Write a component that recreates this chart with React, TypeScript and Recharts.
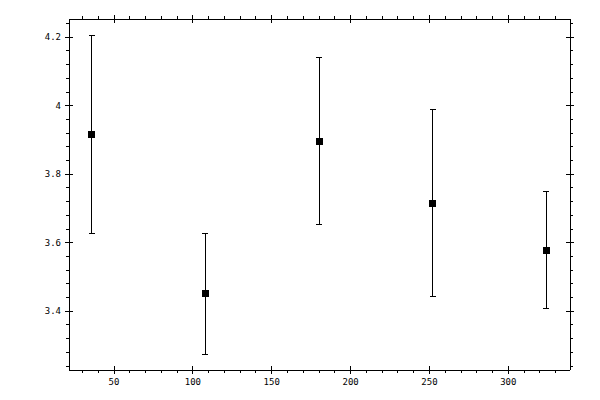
import { ScatterChart, Scatter, XAxis, YAxis, ErrorBar } from "recharts";

// measurement positions and mean values with symmetric error
const xs = [36, 108, 180, 252, 324];
const means = [3.916, 3.451, 3.896, 3.715, 3.578];
const errs = [0.29, 0.177, 0.244, 0.273, 0.171];

const xMajor = [50, 100, 150, 200, 250, 300];
const xTicks = [30, 40, 50, 60, 70, 80, 90, 100, 110, 120, 130, 140, 150, 160, 170, 180, 190, 200, 210, 220, 230, 240, 250, 260, 270, 280, 290, 300, 310, 320, 330];
const yMajor = [3.4, 3.6, 3.8, 4, 4.2];
const yTicks = [3.24, 3.28, 3.32, 3.36, 3.4, 3.44, 3.48, 3.52, 3.56, 3.6, 3.64, 3.68, 3.72, 3.76, 3.8, 3.84, 3.88, 3.92, 3.96, 4, 4.04, 4.08, 4.12, 4.16, 4.2, 4.24];

const data = xs.map((x, i) => ({ x, y: means[i], err: errs[i] }));

const FONT = "'DejaVu Sans Mono', monospace";

type Side = "bottom" | "top" | "left" | "right";

function makeTick(side: Side) {
  return (props: any) => {
    const { x, y, payload } = props;
    const v = payload.value;
    const horiz = side === "bottom" || side === "top";
    const major = horiz
      ? xMajor.includes(v)
      : yMajor.some((m) => Math.abs(m - v) < 1e-6);
    let line;
    if (horiz) {
      if (major) line = <line x1={x} x2={x} y1={y - 4} y2={y + 4} stroke="#000" />;
      else if (side === "bottom") line = <line x1={x} x2={x} y1={y} y2={y + 3} stroke="#000" />;
      else line = <line x1={x} x2={x} y1={y - 3} y2={y} stroke="#000" />;
    } else {
      if (major) line = <line x1={x - 4} x2={x + 4} y1={y} y2={y} stroke="#000" />;
      else if (side === "left") line = <line x1={x - 3} x2={x} y1={y} y2={y} stroke="#000" />;
      else line = <line x1={x} x2={x + 3} y1={y} y2={y} stroke="#000" />;
    }
    let label = null;
    if (major && side === "bottom") {
      label = (
        <text x={x} y={y + 15} textAnchor="middle" fontSize={9} fontFamily={FONT} fill="#000">
          {v}
        </text>
      );
    } else if (major && side === "left") {
      label = (
        <text x={x - 8} y={y + 3} textAnchor="end" fontSize={9} fontFamily={FONT} fill="#000">
          {v}
        </text>
      );
    }
    return (
      <g>
        {line}
        {label}
      </g>
    );
  };
}

const Square = (props: any) => {
  const { cx, cy } = props;
  return <rect x={cx - 3.5} y={cy - 3.5} width={7} height={7} fill="#000" />;
};

export default function App() {
  const xDomain = [21.46, 339.1];
  const yDomain = [3.2286, 4.2534];
  return (
    <div style={{ position: "absolute", left: 0, top: 0, width: 600, height: 400, background: "#fff" }}>
      <ScatterChart
        width={600}
        height={400}
        margin={{ top: 18, right: 29, bottom: 29, left: 68 }}
        style={{ shapeRendering: "crispEdges" }}
      >
        <XAxis
          xAxisId="bottom"
          dataKey="x"
          type="number"
          domain={xDomain}
          allowDataOverflow
          ticks={xTicks}
          interval={0}
          height={1}
          tickSize={0}
          tickMargin={0}
          tickLine={false}
          axisLine={{ stroke: "#000" }}
          tick={makeTick("bottom")}
        />
        <XAxis
          xAxisId="top"
          orientation="top"
          dataKey="x"
          type="number"
          domain={xDomain}
          allowDataOverflow
          ticks={xTicks}
          interval={0}
          height={1}
          tickSize={0}
          tickMargin={0}
          tickLine={false}
          axisLine={{ stroke: "#000" }}
          tick={makeTick("top")}
        />
        <YAxis
          yAxisId="left"
          dataKey="y"
          type="number"
          domain={yDomain}
          allowDataOverflow
          ticks={yTicks}
          interval={0}
          width={1}
          tickSize={0}
          tickMargin={0}
          tickLine={false}
          axisLine={{ stroke: "#000" }}
          tick={makeTick("left")}
        />
        <YAxis
          yAxisId="right"
          orientation="right"
          dataKey="y"
          type="number"
          domain={yDomain}
          allowDataOverflow
          ticks={yTicks}
          interval={0}
          width={1}
          tickSize={0}
          tickMargin={0}
          tickLine={false}
          axisLine={{ stroke: "#000" }}
          tick={makeTick("right")}
        />
        <Scatter
          data={data}
          xAxisId="bottom"
          yAxisId="left"
          fill="#000"
          shape={<Square />}
          isAnimationActive={false}
        >
          <ErrorBar
            dataKey="err"
            direction="y"
            width={3}
            stroke="#000"
            strokeWidth={1}
            isAnimationActive={false}
          />
        </Scatter>
      </ScatterChart>
    </div>
  );
}
